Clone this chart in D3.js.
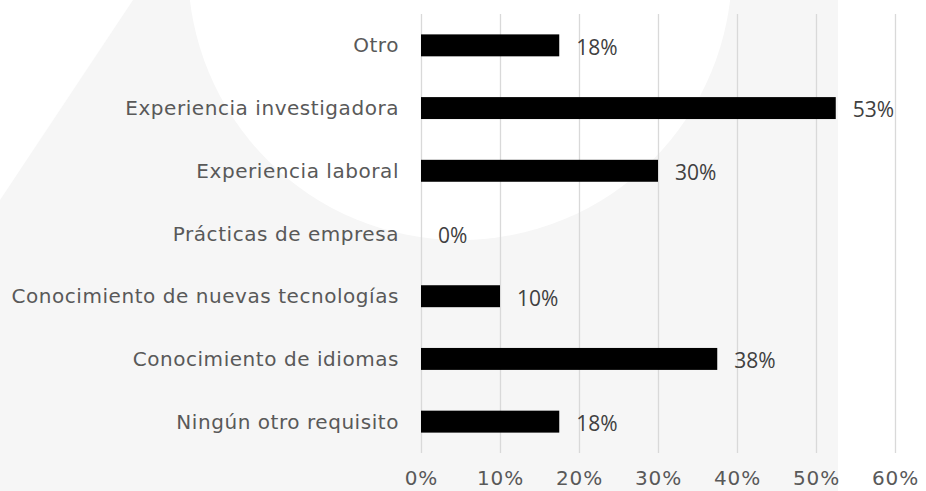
<!DOCTYPE html>
<html>
<head>
<meta charset="utf-8">
<script src="https://cdn.jsdelivr.net/npm/d3@7"></script>
<style>
  html, body { margin: 0; padding: 0; background: #fff; }
  svg { display: block; }
  .cat { font-family: 'DejaVu Sans', Verdana, sans-serif; font-size: 20px; letter-spacing: 0.55px; fill: #595959; }
  .tick text { font-family: 'DejaVu Sans', Verdana, sans-serif; font-size: 20px; letter-spacing: 0.9px; fill: #595959; }
  .val { font-family: 'Open Sans', sans-serif; font-size: 21px; fill: #404040; }
</style>
</head>
<body>
<svg id="chart" width="926" height="491"></svg>
<script>
'use strict'

// Categories top to bottom, as in the picture.
const categories = [
  'Otro',
  'Experiencia investigadora',
  'Experiencia laboral',
  'Prácticas de empresa',
  'Conocimiento de nuevas tecnologías',
  'Conocimiento de idiomas',
  'Ningún otro requisito',
]
const values = [17.5, 52.5, 30, 0, 10, 37.5, 17.5]
const valueLabels = ['18%', '53%', '30%', '0%', '10%', '38%', '18%']
const xTicks = [0, 10, 20, 30, 40, 50, 60]

const width = 926,
  height = 491,
  plotLeft = 421,
  plotRight = 895,
  plotTop = 14,
  plotBottom = 453

const svg = d3.select('#chart')

// Faint background watermark.
const bg = svg.append('g').attr('class', 'watermark')
bg.append('rect')
  .attr('x', 0).attr('y', 0)
  .attr('width', 838).attr('height', height)
  .attr('fill', '#f6f6f6')
bg.append('circle')
  .attr('cx', 460).attr('cy', -32).attr('r', 272)
  .attr('fill', '#ffffff')
bg.append('path')
  .attr('d', 'M0,0 L133,0 L0,200 Z')
  .attr('fill', '#ffffff')

const x = d3.scaleLinear().domain([0, 60]).range([plotLeft, plotRight])
const y = d3
  .scaleBand()
  .domain(categories)
  .range([plotTop, plotBottom])
  .paddingInner(0.65)
  .paddingOuter(0.325)

// Vertical gridlines + tick labels.
const xAxis = d3
  .axisBottom(x)
  .tickValues(xTicks)
  .tickFormat(d => `${d}%`)
  .tickSize(plotBottom - plotTop)
  .tickPadding(18)

svg
  .append('g')
  .attr('transform', `translate(0, ${plotTop})`)
  .call(xAxis)
  .call(g => g.select('.domain').remove())
  .call(g => g.selectAll('.tick line').attr('stroke', '#d9d9d9').attr('stroke-width', 1.3))

// Bars.
const data = categories.map((c, i) => ({ cat: c, value: values[i], label: valueLabels[i] }))

svg
  .append('g')
  .selectAll('rect')
  .data(data)
  .enter()
  .append('rect')
  .attr('x', x(0))
  .attr('y', d => y(d.cat))
  .attr('width', d => x(d.value) - x(0))
  .attr('height', y.bandwidth())
  .attr('fill', '#000')

// Category labels.
svg
  .append('g')
  .selectAll('text')
  .data(data)
  .enter()
  .append('text')
  .attr('class', 'cat')
  .attr('x', x(0) - 22)
  .attr('y', d => y(d.cat) + y.bandwidth() / 2)
  .attr('dy', '0.35em')
  .attr('text-anchor', 'end')
  .text(d => d.cat)

// Value labels.
svg
  .append('g')
  .selectAll('text')
  .data(data)
  .enter()
  .append('text')
  .attr('class', 'val')
  .attr('x', d => x(d.value) + 17)
  .attr('y', d => y(d.cat) + y.bandwidth() / 2 + 2)
  .attr('dy', '0.35em')
  .text(d => d.label)
</script>
</body>
</html>
